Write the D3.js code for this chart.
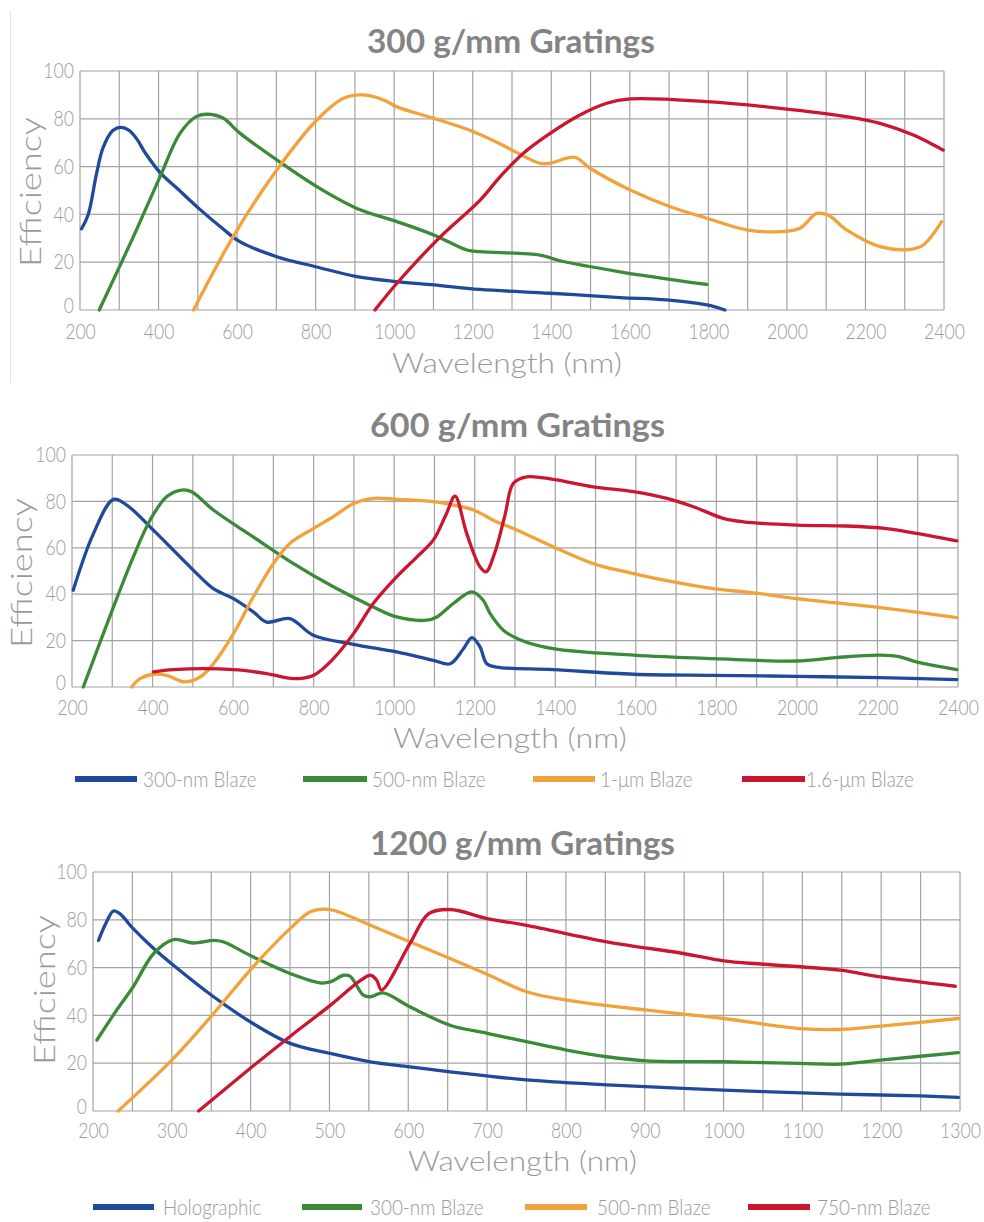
<!DOCTYPE html>
<html>
<head>
<meta charset="utf-8">
<script src="https://cdn.jsdelivr.net/npm/d3@7"></script>
<style>
  body { margin: 0; background: #fff; }
  svg { display: block; }
</style>
</head>
<body>
<svg id="chart" width="984" height="1222"></svg>
<script>
// ---------- Data: [wavelength (nm), efficiency (%)] ----------

// 300 g/mm gratings
const g300_blaze300 = [[204,34],[221,40],[242,57],[259,68],[283,75],[304,76.4],[325,75.2],[345,71.5],[365,66],[404,57.5],[450,50.5],[506,42],[560,34.5],[607,28.6],[701,22.3],[803,18],[905,14],[1007,11.9],[1101,10.5],[1219,8.6],[1397,7],[1575,5.2],[1694,4.2],[1796,2.1],[1842,0]];
const g300_blaze500 = [[249,0],[336,30.7],[404,55.8],[455,74],[497,81],[527,81.9],[565,80.2],[607,74],[701,62.8],[803,51.6],[905,42.5],[1007,37],[1101,31.4],[1185,25.1],[1219,24.4],[1371,23],[1422,20.6],[1575,16],[1796,10.7]];
const g300_blaze1um = [[489,0],[590,30.7],[701,58.6],[803,79.5],[871,88.6],[922,90],[973,87.9],[1007,85],[1101,80.2],[1202,74.6],[1270,69.5],[1371,61.4],[1397,61.4],[1460,63.9],[1499,59.3],[1601,50.2],[1703,43.2],[1796,38.4],[1898,33.5],[1983,32.8],[2033,34.2],[2076,40.4],[2105,39.7],[2152,33.5],[2237,26.5],[2314,25.4],[2347,27.2],[2394,37]];
const g300_blaze16um = [[951,0],[1007,11.2],[1118,30.7],[1219,46],[1270,55.8],[1329,65.6],[1397,73.9],[1473,81.6],[1541,86.5],[1601,88.3],[1796,87.2],[1983,84.4],[2152,80.9],[2237,78.1],[2322,73.2],[2398,66.9]];

// 600 g/mm gratings
const g600_blaze300 = [[203,41.7],[253,66],[303,80.9],[336,78.4],[402,67.6],[501,50.4],[551,42.4],[601,38.1],[650,32.4],[683,28],[741,29.5],[799,22.3],[899,18.4],[1006,15.1],[1097,11.5],[1139,10],[1172,16.5],[1193,21.3],[1213,17.3],[1230,10],[1254,8.6],[1395,7.5],[1594,5.5],[1792,5],[1999,4.6],[2206,4],[2397,3.2]];
const g600_blaze500 = [[228,0],[303,34.5],[352,56],[394,72],[435,82],[472,84.9],[497,84.2],[551,76.3],[650,64.7],[750,53.2],[849,43.2],[948,34.5],[1006,30.2],[1081,28.8],[1106,30.2],[1147,36],[1193,41],[1221,37.4],[1238,31.7],[1271,24.5],[1312,20.4],[1395,16.5],[1594,13.7],[1792,12.2],[1999,11.2],[2098,12.7],[2206,13.7],[2256,13],[2297,10.8],[2397,7.5]];
const g600_blaze1um = [[348,0],[369,3.6],[402,5.5],[435,5],[481,2.2],[518,4.3],[551,10],[601,23],[650,38.8],[700,53.2],[741,61.9],[799,68.3],[849,73.4],[899,79.1],[948,81.3],[1006,80.9],[1097,79.9],[1147,78.4],[1197,76.3],[1254,71.2],[1296,68.3],[1395,60.4],[1494,53.2],[1594,48.9],[1693,45.3],[1792,42.4],[1892,40.6],[1999,38.1],[2206,34.2],[2397,29.9]];
const g600_blaze16um = [[402,6.5],[452,7.5],[601,7.5],[683,5.8],[750,3.6],[799,5],[849,12.2],[899,23],[948,36],[1006,47.5],[1056,56],[1097,63.3],[1130,74.8],[1151,82.3],[1180,66.2],[1213,51.8],[1228,49.6],[1250,58],[1275,74],[1296,87.8],[1329,90.6],[1395,89.5],[1494,86.3],[1594,84.2],[1677,81.3],[1743,77.7],[1817,72.7],[1867,71.2],[1999,69.8],[2123,69.4],[2222,68.3],[2297,66.2],[2397,63]];

// 1200 g/mm gratings
const g1200_holographic = [[207,71.4],[217,79],[226,83.7],[234,82.6],[251,76.3],[277,68],[302,61],[353,47.8],[403,36.6],[450,28.3],[501,24.1],[552,20.6],[602,18.5],[653,16.4],[691,15],[750,13],[852,10.9],[949,9.5],[1051,8.1],[1148,7.1],[1250,6.3],[1298,5.7]];
const g1200_blaze300 = [[205,29.7],[230,42.2],[251,52],[277,65.9],[302,71.7],[327,70.3],[353,71.4],[365,70.8],[403,64.5],[450,57.5],[488,53.6],[501,54],[518,56.8],[526,56.4],[543,48.5],[552,47.8],[568,49.4],[602,43.6],[653,35.9],[700,32.5],[750,29],[801,25.5],[852,22.7],[903,21],[1000,20.6],[1097,19.9],[1148,19.6],[1199,21.3],[1298,24.4]];
const g1200_blaze500 = [[232,0],[302,22],[353,40.8],[403,60.3],[450,76.3],[475,83.3],[488,84.4],[505,84],[552,77.7],[602,70.8],[653,63.8],[700,57.2],[750,49.9],[801,46.4],[903,42.2],[1000,38.7],[1097,34.5],[1148,34.1],[1199,35.5],[1298,38.7]];
const g1200_blaze750 = [[334,0],[403,18.8],[450,31.2],[501,44.2],[539,54.5],[552,56.8],[560,54.7],[566,50.6],[602,70],[626,82.6],[653,84.3],[700,80.5],[750,77.7],[852,70.8],[949,65.9],[1000,62.8],[1051,61.4],[1148,58.9],[1199,56.1],[1294,52.2]];

// Tick labels
const yTicks = [0, 20, 40, 60, 80, 100];
const xTicksWide = [200, 400, 600, 800, 1000, 1200, 1400, 1600, 1800, 2000, 2200, 2400];
const xTicksNarrow = [200, 300, 400, 500, 600, 700, 800, 900, 1000, 1100, 1200, 1300];

// Legend labels
const legend600 = ["300-nm Blaze", "500-nm Blaze", "1-\u03bcm Blaze", "1.6-\u03bcm Blaze"];
const legend1200 = ["Holographic", "300-nm Blaze", "500-nm Blaze", "750-nm Blaze"];

// ---------- Styling & layout ----------
const seriesColors = ["#1f4a9c", "#3b8a37", "#f1a23a", "#cc1630"];
const gridColor = "#a3a3a3";
const tickColor = "#9a9a9a";
const titleColor = "#848484";
const FONT = "Lato, 'Open Sans', 'DejaVu Sans', sans-serif";
const squeeze = 0.84;  // horizontal compression of the tick lettering
const tickSize = 21;

const panels = [
  {
    title: "300 g/mm Gratings",
    series: [g300_blaze300, g300_blaze500, g300_blaze1um, g300_blaze16um],
    xDomain: [200, 2400], xLabels: xTicksWide, gridStep: 100,
    left: 80, right: 944, top: 71, bottom: 310,
    titleSpan: [367, 655], titleBase: 53,
    yTitle: [31, 192],
    xTitleSpan: [392, 622], xTitleBase: 373,
    xLabelOffset: 29,
    legend: null
  },
  {
    title: "600 g/mm Gratings",
    series: [g600_blaze300, g600_blaze500, g600_blaze1um, g600_blaze16um],
    xDomain: [200, 2400], xLabels: xTicksWide, gridStep: 100,
    left: 72, right: 958, top: 455, bottom: 687,
    titleSpan: [370, 665], titleBase: 437,
    yTitle: [22, 573],
    xTitleSpan: [393, 627], xTitleBase: 748,
    xLabelOffset: 28,
    legend: { labels: legend600, y: 779, lines: [[75,137],[303,367],[533,595],[742,805]], textX: [143,372,600,806] }
  },
  {
    title: "1200 g/mm Gratings",
    series: [g1200_holographic, g1200_blaze300, g1200_blaze500, g1200_blaze750],
    xDomain: [200, 1300], xLabels: xTicksNarrow, gridStep: 50,
    left: 93, right: 960, top: 872, bottom: 1111,
    titleSpan: [370, 675], titleBase: 855,
    yTitle: [45, 990],
    xTitleSpan: [408, 637], xTitleBase: 1171,
    xLabelOffset: 27.5,
    legend: { labels: legend1200, y: 1207, lines: [[93,154],[302,362],[525,587],[748,810]], textX: [163,370,597,817] }
  }
];

const svg = d3.select("#chart");

// thin rule at the left of the first panel
svg.append("line")
  .attr("x1", 10.5).attr("x2", 10.5).attr("y1", 10).attr("y2", 383)
  .attr("stroke", "#e2e2e2").attr("stroke-width", 1);

// Fit a text horizontally into [x0, x1] at a baseline
function fitSpan(sel, x0, x1, base) {
  const w = sel.node().getComputedTextLength();
  const s = (x1 - x0) / w;
  sel.attr("x", 0).attr("y", 0)
     .attr("transform", `translate(${x0},${base}) scale(${s},1)`);
}

panels.forEach(p => {
  const g = svg.append("g");
  const x = d3.scaleLinear().domain(p.xDomain).range([p.left, p.right]);
  const y = d3.scaleLinear().domain([0, 100]).range([p.bottom, p.top]);

  // grid
  const grid = g.append("g").attr("stroke", gridColor).attr("stroke-width", 1.2);
  grid.selectAll("line.v")
    .data(d3.range(p.xDomain[0], p.xDomain[1] + 1, p.gridStep))
    .join("line").attr("class", "v")
    .attr("x1", d => x(d)).attr("x2", d => x(d))
    .attr("y1", p.top).attr("y2", p.bottom);
  grid.selectAll("line.h")
    .data(yTicks)
    .join("line").attr("class", "h")
    .attr("x1", p.left).attr("x2", p.right)
    .attr("y1", d => y(d)).attr("y2", d => y(d));

  // x tick labels
  const ax = g.append("g")
    .attr("transform", `translate(0,${p.bottom})`)
    .call(d3.axisBottom(x).tickValues(p.xLabels).tickSize(0).tickFormat(d3.format("d")));
  ax.select(".domain").remove();
  ax.selectAll("text")
    .attr("y", p.xLabelOffset).attr("dy", null)
    .attr("font-family", FONT).attr("font-weight", 300).attr("font-size", tickSize)
    .attr("fill", tickColor).attr("transform", `scale(${squeeze},1)`);

  // y tick labels; the zero label sits a little above its line, clear of the first x label
  const ay = g.append("g")
    .attr("transform", `translate(${p.left},0)`)
    .call(d3.axisLeft(y).tickValues(yTicks).tickSize(0));
  ay.select(".domain").remove();
  ay.selectAll("text")
    .attr("x", -6 / squeeze).attr("dy", "0.32em")
    .attr("y", d => d === 0 ? -4.5 : 0)
    .attr("font-family", FONT).attr("font-weight", 300).attr("font-size", tickSize)
    .attr("fill", tickColor).attr("transform", `scale(${squeeze},1)`);

  // curves
  const line = d3.line()
    .x(d => x(d[0])).y(d => y(d[1]))
    .curve(d3.curveCatmullRom.alpha(0.5));
  g.append("g").selectAll("path")
    .data(p.series)
    .join("path")
    .attr("d", line)
    .attr("fill", "none")
    .attr("stroke", (d, i) => seriesColors[i])
    .attr("stroke-width", 3.3)
    .attr("stroke-linejoin", "round")
    .attr("stroke-linecap", "round");

  // title
  const t = g.append("text")
    .attr("font-family", FONT).attr("font-weight", 700).attr("font-size", 32)
    .attr("fill", titleColor).text(p.title);
  fitSpan(t, p.titleSpan[0], p.titleSpan[1], p.titleBase);

  // x axis title
  const xt = g.append("text")
    .attr("font-family", FONT).attr("font-weight", 300).attr("font-size", 28)
    .attr("fill", tickColor).text("Wavelength (nm)");
  fitSpan(xt, p.xTitleSpan[0], p.xTitleSpan[1], p.xTitleBase);

  // y axis title
  const yt = g.append("text")
    .attr("font-family", FONT).attr("font-weight", 300).attr("font-size", 29)
    .attr("fill", tickColor).attr("text-anchor", "middle").attr("dy", "0.36em")
    .text("Efficiency");
  const yl = yt.node().getComputedTextLength();
  yt.attr("transform", `translate(${p.yTitle[0]},${p.yTitle[1]}) rotate(-90) scale(${150 / yl},1)`);

  // legend
  if (p.legend) {
    const lg = g.append("g");
    p.legend.labels.forEach((lab, i) => {
      lg.append("line")
        .attr("x1", p.legend.lines[i][0]).attr("x2", p.legend.lines[i][1])
        .attr("y1", p.legend.y).attr("y2", p.legend.y)
        .attr("stroke", seriesColors[i]).attr("stroke-width", 6);
      lg.append("text")
        .attr("font-family", FONT).attr("font-weight", 300).attr("font-size", 21)
        .attr("fill", tickColor).attr("dy", "0.36em")
        .attr("transform", `translate(${p.legend.textX[i]},${p.legend.y}) scale(0.9,1)`)
        .text(lab);
    });
  }
});
</script>
</body>
</html>
